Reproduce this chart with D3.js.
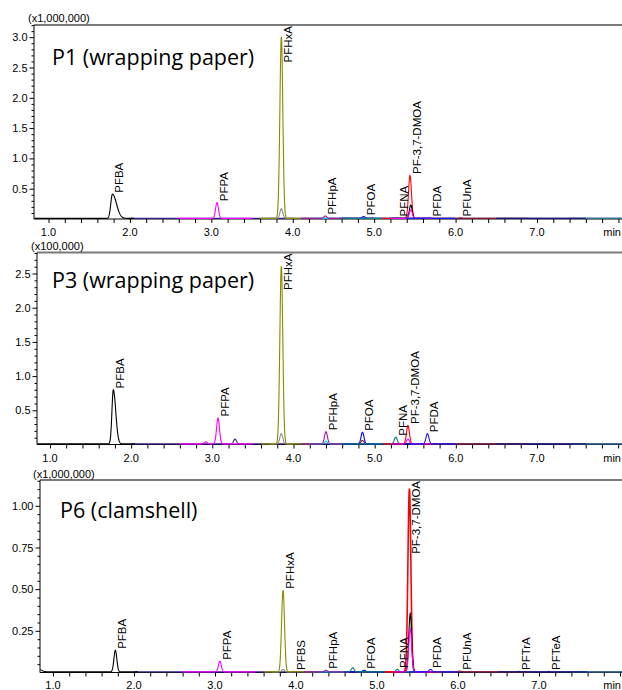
<!DOCTYPE html>
<html>
<head>
<meta charset="utf-8">
<script src="https://cdn.jsdelivr.net/npm/d3@7"></script>
<style>
  body { margin: 0; background: #fff; }
  svg { display: block; }
</style>
</head>
<body>
<svg id="chart" width="622" height="690"></svg>
<script>
var traceKeys   = ["bk", "vi", "mg", "ol", "gy", "pu", "cy", "bl", "br", "tl", "rd", "k2", "m2", "bl2", "dr", "nv", "tl2"];
var traceStart  = [0.7, 2.0, 2.6, 3.6, 3.7, 4.1, 4.2, 4.6, 4.6, 4.6, 5.1, 5.2, 5.2, 5.4, 5.8, 6.5, 7.4];
var traceEnd    = [2.05, 8.2, 3.5, 4.2, 4.0, 4.7, 4.6, 5.1, 5.0, 5.5, 5.8, 5.7, 5.7, 6.0, 6.9, 7.6, 8.2];

// peaks: [trace, retention time (min), height (panel units), label]
var p1Peaks = [
  ["bk", 1.785, 0.40, "PFBA"],
  ["mg", 3.07, 0.26, "PFPA"],
  ["ol", 3.86, 3.00, "PFHxA"],
  ["gy", 3.86, 0.16, ""],
  ["pu", 4.40, 0.04, "PFHpA"],
  ["bl", 4.87, 0.03, "PFOA"],
  ["tl", 5.28, 0.01, "PFNA"],
  ["rd", 5.44, 0.71, "PF-3,7-DMOA"],
  ["k2", 5.45, 0.22, ""],
  ["m2", 5.45, 0.14, ""],
  ["bl2", 5.68, 0.01, "PFDA"],
  ["dr", 6.06, 0.01, "PFUnA"]
];
var p3Peaks = [
  ["bk", 1.78, 0.79, "PFBA"],
  ["bk", 2.25, 0.025, ""],
  ["mg", 2.92, 0.03, ""],
  ["mg", 3.07, 0.38, "PFPA"],
  ["vi", 3.28, 0.07, ""],
  ["ol", 3.85, 2.60, "PFHxA"],
  ["gy", 3.85, 0.15, ""],
  ["pu", 4.40, 0.18, "PFHpA"],
  ["cy", 4.40, 0.04, ""],
  ["bl", 4.85, 0.17, "PFOA"],
  ["br", 4.85, 0.05, ""],
  ["tl", 5.26, 0.10, "PFNA"],
  ["rd", 5.41, 0.27, "PF-3,7-DMOA"],
  ["m2", 5.41, 0.07, ""],
  ["bl2", 5.65, 0.15, "PFDA"],
  ["dr", 5.65, 0.03, ""]
];
var p6Peaks = [
  ["bk", 0.78, 0.035, ""],
  ["bk", 1.77, 0.13, "PFBA"],
  ["mg", 3.06, 0.064, "PFPA"],
  ["ol", 3.84, 0.49, "PFHxA"],
  ["gy", 3.84, 0.015, ""],
  ["ol", 3.97, 0.003, "PFBS"],
  ["pu", 4.37, 0.01, "PFHpA"],
  ["tl", 4.70, 0.025, ""],
  ["bl", 4.84, 0.01, "PFOA"],
  ["tl", 5.25, 0.015, "PFNA"],
  ["rd", 5.40, 1.10, "PF-3,7-DMOA"],
  ["k2", 5.41, 0.35, ""],
  ["m2", 5.41, 0.26, ""],
  ["bl2", 5.66, 0.015, "PFDA"],
  ["dr", 6.02, 0.005, "PFUnA"],
  ["nv", 6.75, 0.003, "PFTrA"],
  ["nv", 7.12, 0.003, "PFTeA"]
];
// peak widths that differ from the default (tailing), [panel, peak index, left sigma, right sigma]
var tailing = [[0, 0, 0.02, 0.05], [1, 0, 0.017, 0.03], [2, 0, 0.03, 0.05]];

var xTicks = [1, 2, 3, 4, 5, 6, 7];
var p1YTicks = [0.5, 1.0, 1.5, 2.0, 2.5, 3.0];
var p3YTicks = [0.5, 1.0, 1.5, 2.0, 2.5];
var p6YTicks = [0.25, 0.50, 0.75, 1.00];

var colour = {bk: "#000", vi: "#3a1e8c", mg: "#ff00ff", ol: "#8a8a00", gy: "#8c8c8c", pu: "#a0169c",
  cy: "#00c8e6", bl: "#0000ff", br: "#8b1a1a", tl: "#008080", rd: "#ff0000", k2: "#000", m2: "#ff00ff",
  bl2: "#1a1aff", dr: "#8a1a2a", nv: "#1a1a80", tl2: "#2a7a8a"};
var drawOrder = ["vi", "tl2", "dr", "nv", "bk", "mg", "gy", "ol", "cy", "pu", "br", "bl", "tl", "rd", "k2", "m2", "bl2"];

var panels = [
  {peaks: p1Peaks, mult: "(x1,000,000)", title: "P1 (wrapping paper)", yTicks: p1YTicks, fmt: ".1f", minor: 0.1,
   top: 25, bottom: 219, left: 34, x1: 48.5, x7: 537, perUnit: 60.6, multX: 28, multY: 22, titleX: 52, titleY: 65, xLabY: 236},
  {peaks: p3Peaks, mult: "(x100,000)", title: "P3 (wrapping paper)", yTicks: p3YTicks, fmt: ".1f", minor: 0.1,
   top: 252.5, bottom: 444.5, left: 37, x1: 50, x7: 537, perUnit: 68.4, multX: 31, multY: 250, titleX: 52, titleY: 288, xLabY: 462},
  {peaks: p6Peaks, mult: "(x1,000,000)", title: "P6 (clamshell)", yTicks: p6YTicks, fmt: ".2f", minor: 0.05,
   top: 480, bottom: 672.5, left: 40, x1: 53, x7: 539, perUnit: 166.7, multX: 33, multY: 478, titleX: 60, titleY: 518, xLabY: 689}
];

var W = 622;
var svg = d3.select("#chart");
var tickFont = "'Liberation Sans', Arial, sans-serif";

panels.forEach(function(p, pi){
  var x = d3.scaleLinear().domain([1, 7]).range([p.x1, p.x7]);
  var tMin = x.invert(p.left), tMax = x.invert(W);
  var yMax = (p.bottom - p.top) / p.perUnit;
  var y = d3.scaleLinear().domain([0, yMax]).range([p.bottom, p.top]);
  var g = svg.append("g");

  // top frame line
  g.append("line").attr("x1", p.left).attr("x2", W).attr("y1", p.top).attr("y2", p.top)
    .style("stroke", "#7a7a7a").style("stroke-width", 2);

  // y axis: major + minor ticks
  var minorY = d3.range(p.minor, yMax, p.minor).filter(function(v){
    return !p.yTicks.some(function(m){ return Math.abs(m - v) < 1e-6; });
  });
  g.append("g").attr("transform", "translate(" + p.left + ",0)")
    .call(d3.axisLeft(y).tickValues(minorY).tickSize(2.5).tickFormat(""))
    .call(function(a){ a.select(".domain").remove(); });
  g.append("g").attr("transform", "translate(" + p.left + ",0)")
    .call(d3.axisLeft(y).tickValues(p.yTicks).tickSize(4.5).tickPadding(2).tickFormat(d3.format(p.fmt)))
    .call(function(a){
      a.select(".domain").remove();
      a.selectAll("text").style("font-family", tickFont).style("font-size", "11px").attr("fill", "#000");
    });
  g.append("line").attr("x1", p.left).attr("x2", p.left).attr("y1", p.top).attr("y2", p.bottom)
    .style("stroke", "#000").style("stroke-width", 1);

  // x axis
  var minorX = d3.range(Math.ceil(tMin / 0.2) * 0.2, tMax, 0.2);
  g.append("g").attr("transform", "translate(0," + p.bottom + ")")
    .call(d3.axisBottom(x).tickValues(minorX).tickSize(4).tickFormat(""))
    .call(function(a){ a.select(".domain").remove(); });
  g.append("line").attr("x1", p.left).attr("x2", W).attr("y1", p.bottom).attr("y2", p.bottom)
    .style("stroke", "#000").style("stroke-width", 1);
  g.selectAll(".xlab").data(xTicks).enter().append("text")
    .attr("x", function(d){ return x(d); }).attr("y", p.xLabY)
    .attr("text-anchor", "middle").style("font-family", tickFont).style("font-size", "11px")
    .text(function(d){ return d3.format(".1f")(d); });
  g.append("text").attr("x", W - 1).attr("y", p.xLabY).attr("text-anchor", "end")
    .style("font-family", tickFont).style("font-size", "11px").text("min");

  // multiplier and title
  g.append("text").attr("x", p.multX).attr("y", p.multY)
    .style("font-family", tickFont).style("font-size", "11px").text(p.mult);
  g.append("text").attr("x", p.titleX).attr("y", p.titleY)
    .style("font-family", "'Open Sans', 'Noto Sans', sans-serif").style("font-size", "21.5px").text(p.title);

  // traces
  var clipId = "clip" + pi;
  svg.append("clipPath").attr("id", clipId).append("rect")
    .attr("x", p.left + 0.5).attr("y", p.top).attr("width", W - p.left).attr("height", p.bottom - p.top + 1);
  var tg = g.append("g").attr("clip-path", "url(#" + clipId + ")");
  var sig = p.peaks.map(function(){ return [0.018, 0.018]; });
  tailing.forEach(function(tl){ if (tl[0] === pi) sig[tl[1]] = [tl[2], tl[3]]; });

  var line = d3.line().x(function(d){ return x(d[0]); }).y(function(d){ return y(d[1]) - 0.6; });

  drawOrder.forEach(function(key){
    var k = traceKeys.indexOf(key);
    var t0 = Math.max(traceStart[k], tMin - 0.05), t1 = Math.min(traceEnd[k], tMax);
    if (t1 <= t0) return;
    var pts = d3.range(t0, t1, 0.003).map(function(t){
      var v = 0;
      p.peaks.forEach(function(pk, i){
        if (pk[0] !== key) return;
        var s = t < pk[1] ? sig[i][0] : sig[i][1];
        v += pk[2] * Math.exp(-0.5 * Math.pow((t - pk[1]) / s, 2));
      });
      return [t, v];
    });
    tg.append("path").datum(pts).attr("d", line)
      .style("fill", "none").style("stroke", colour[key])
      .style("stroke-width", (key === "rd" && pi === 2) ? 1.6 : 1.1);
  });

  // peak labels (rotated)
  p.peaks.forEach(function(pk){
    if (!pk[3]) return;
    var lab = g.append("text").style("font-family", tickFont).style("font-size", "11.5px").text(pk[3]);
    var len = lab.node().getComputedTextLength();
    var ly = Math.max(y(pk[2]) - 2, p.top + len + 1);
    ly = Math.min(ly, p.bottom - 1.5);
    lab.attr("transform", "translate(" + (x(pk[1]) + 11) + "," + ly + ") rotate(-90)");
  });
});
</script>
</body>
</html>
